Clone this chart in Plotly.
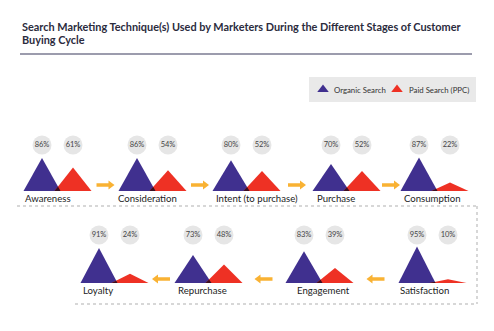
import plotly.graph_objects as go

# ---- data ----
stages = ["Awareness", "Consideration", "Intent (to purchase)", "Purchase", "Consumption",
          "Satisfaction", "Engagement", "Repurchase", "Loyalty"]
organic = [86, 86, 80, 70, 87, 95, 83, 73, 91]
paid = [61, 54, 52, 52, 22, 10, 39, 48, 24]
series_names = ["Organic Search", "Paid Search (PPC)"]
title_lines = ["Search Marketing Technique(s) Used by Marketers During the Different Stages of Customer",
               "Buying Cycle"]

# ---- layout constants (pixel space) ----
W, H = 494, 331
BLUE = "#40308f"
RED = "#ee3124"
DARK = "#3a0f22"
ORANGE = "#f9b233"
CIRC = "#e6e6e6"
TXT = "#333333"

apex_x = [42, 137, 231, 331, 419, 417, 304, 193, 99]
label_x = [23, 116, 214, 315, 402, 398, 295, 176, 81]
row = [0, 0, 0, 0, 0, 1, 1, 1, 1]
base_y = [191, 283]
circle_y = [145, 235]
label_y = [198.5, 290]
arrow_y = [185, 279]
half_w = 18.5
gap = 31
scale = 0.384
arrow_len = 17

fig = go.Figure()

def tri(xc, base, h, color):
    fig.add_trace(go.Scatter(x=[xc - half_w, xc, xc + half_w, xc - half_w],
                             y=[base, base - h, base, base], mode="lines",
                             fill="toself", fillcolor=color, line=dict(width=0),
                             hoverinfo="skip", showlegend=False))

circ_x, circ_y, circ_t = [], [], []
for i, s in enumerate(stages):
    b = apex_x[i]
    r = b + gap
    base = base_y[row[i]]
    h1 = organic[i] * scale
    h2 = paid[i] * scale
    tri(b, base, h1, BLUE)
    tri(r, base, h2, RED)
    # overlap region (computed from the two triangles)
    xi = (h1 * (b + half_w) + h2 * (r - half_w)) / (h1 + h2)
    hi = h1 * (b + half_w - xi) / half_w
    fig.add_trace(go.Scatter(x=[r - half_w, xi, b + half_w, r - half_w],
                             y=[base, base - hi, base, base], mode="lines",
                             fill="toself", fillcolor=DARK, line=dict(width=0),
                             hoverinfo="skip", showlegend=False))
    circ_x += [b, r]
    circ_y += [circle_y[row[i]]] * 2
    circ_t += [f"{organic[i]}%", f"{paid[i]}%"]
    fig.add_annotation(x=label_x[i], y=label_y[row[i]], text=s, showarrow=False,
                       xanchor="left", yanchor="middle",
                       font=dict(family="Lato", size=9.6, color="#222222"))

fig.add_trace(go.Scatter(x=circ_x, y=circ_y, mode="markers+text", text=circ_t,
                         textposition="middle center",
                         marker=dict(size=19, color=CIRC, line=dict(width=0)),
                         textfont=dict(family="Lato", size=7.5, color="#444444"),
                         hoverinfo="skip", showlegend=False))

# arrows between stages (centred between red triangle of one stage and blue of the next)
head_x, head_y, head_sym = [], [], []
for i in range(len(stages) - 1):
    if row[i] != row[i + 1]:
        continue
    ry = arrow_y[row[i]]
    if row[i] == 0:
        left_end = apex_x[i] + gap + half_w
        right_end = apex_x[i + 1] - half_w
        mid = (left_end + right_end) / 2
        fig.add_shape(type="line", x0=mid - arrow_len / 2, y0=ry, x1=mid + arrow_len / 2 - 4, y1=ry,
                      line=dict(color=ORANGE, width=3.5))
        head_x.append(mid + arrow_len / 2 - 3)
        head_sym.append("triangle-right")
    else:
        left_end = apex_x[i + 1] + gap + half_w
        right_end = apex_x[i] - half_w
        mid = (left_end + right_end) / 2
        fig.add_shape(type="line", x0=mid + arrow_len / 2, y0=ry, x1=mid - arrow_len / 2 + 4, y1=ry,
                      line=dict(color=ORANGE, width=3.5))
        head_x.append(mid - arrow_len / 2 + 3)
        head_sym.append("triangle-left")
    head_y.append(ry)
fig.add_trace(go.Scatter(x=head_x, y=head_y, mode="markers",
                         marker=dict(symbol=head_sym, size=8, color=ORANGE, line=dict(width=0)),
                         hoverinfo="skip", showlegend=False))

# dashed path
dash = dict(color="#cacaca", width=1.5, dash="3px,3px")
fig.add_shape(type="line", x0=17, y0=206, x1=477, y1=206, line=dash)
fig.add_shape(type="line", x0=477, y0=206, x1=477, y1=304, line=dash)
fig.add_shape(type="line", x0=75, y0=304, x1=477, y1=304, line=dash)

# title
fig.add_annotation(x=20, y=26, text=title_lines[0], showarrow=False, xanchor="left",
                   yanchor="middle", font=dict(family="Lato", size=10.9, color="#2b2b3d", weight="bold"))
fig.add_annotation(x=20, y=39, text=title_lines[1], showarrow=False, xanchor="left",
                   yanchor="middle", font=dict(family="Lato", size=10.9, color="#2b2b3d", weight="bold"))
fig.add_shape(type="line", x0=20, y0=54, x1=472, y1=54, line=dict(color="#9c9cad", width=2))

# legend box
fig.add_shape(type="rect", x0=309, y0=77, x1=476, y1=102, fillcolor="#e9e9e9", line=dict(width=0), layer="below")
fig.add_trace(go.Scatter(x=[323, 397], y=[89.5, 89.5], mode="markers",
                         marker=dict(symbol="triangle-up", size=10, color=[BLUE, RED]),
                         hoverinfo="skip", showlegend=False))
fig.add_annotation(x=332, y=89.5, text=series_names[0], showarrow=False, xanchor="left",
                   font=dict(family="Lato", size=7.8, color=TXT))
fig.add_annotation(x=407, y=89.5, text=series_names[1], showarrow=False, xanchor="left",
                   font=dict(family="Lato", size=7.8, color=TXT))

fig.update_layout(width=W, height=H, margin=dict(l=0, r=0, t=0, b=0),
                  paper_bgcolor="white", plot_bgcolor="white",
                  xaxis=dict(range=[0, W], visible=False, fixedrange=True),
                  yaxis=dict(range=[H, 0], visible=False, fixedrange=True),
                  showlegend=False)
fig.write_html("out.html")
